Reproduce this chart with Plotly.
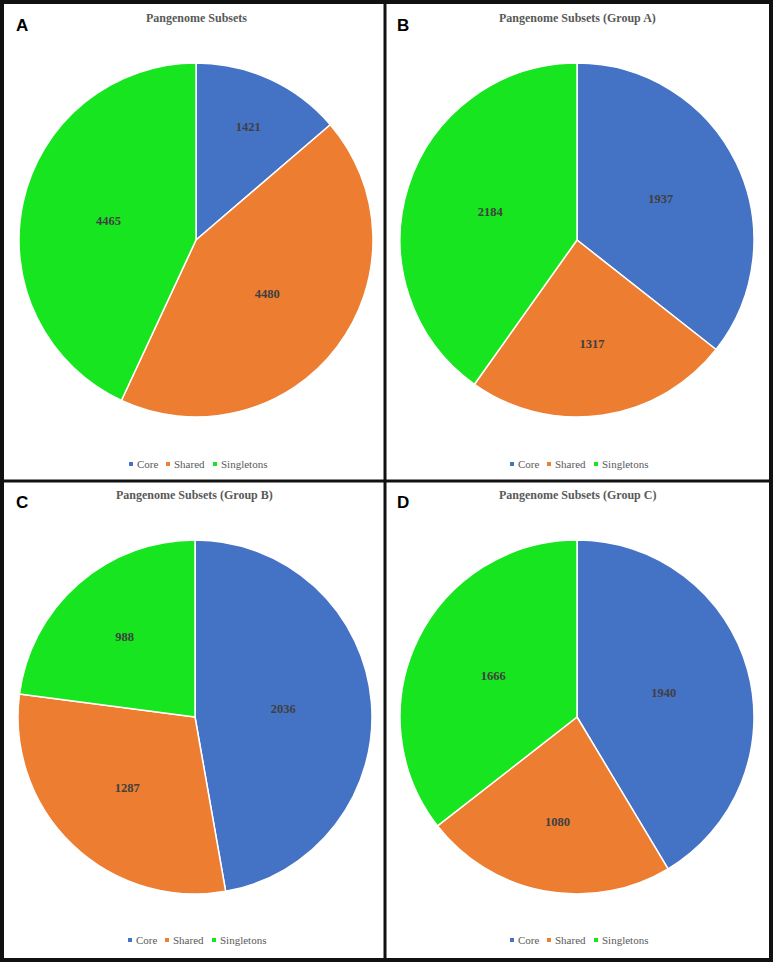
import plotly.graph_objects as go

W, H = 773, 962
categories = ["Core", "Shared", "Singletons"]
colors = ["#4472C4", "#ED7D31", "#17E51F"]
titles = ["Pangenome Subsets", "Pangenome Subsets (Group A)",
          "Pangenome Subsets (Group B)", "Pangenome Subsets (Group C)"]
letters = ["A", "B", "C", "D"]
values_A = [1421, 4480, 4465]
values_B = [1937, 1317, 2184]
values_C = [2036, 1287, 988]
values_D = [1940, 1080, 1666]
all_values = [values_A, values_B, values_C, values_D]

# pixel geometry of each panel: (center x, center y, radius)
pies = [(196, 240, 177), (577, 240, 177), (195, 717, 177), (577, 717, 177)]
panel_boxes = [(4, 4, 385, 481), (385, 4, 769, 481), (4, 481, 385, 958), (385, 481, 769, 958)]
legend_y = [464, 464, 940, 940]
# legend item offsets (square x relative to pie center)
legend_dx = [-65, -28, 19]

def px(x):
    return x / W

def py(y):
    return 1 - y / H

fig = go.Figure()
for i, (vals, (cx, cy, r)) in enumerate(zip(all_values, pies)):
    fig.add_trace(go.Pie(
        labels=categories, values=vals, sort=False, direction="clockwise", rotation=0,
        marker=dict(colors=colors, line=dict(color="white", width=1.5)),
        textinfo="value", textposition="inside", insidetextorientation="horizontal",
        textfont=dict(family="Liberation Serif", size=12.5, color="#404040", weight="bold"),
        domain=dict(x=[px(cx - r), px(cx + r)], y=[py(cy + r), py(cy - r)]),
        showlegend=False, hoverinfo="label+value+percent",
    ))

annotations = []
shapes = []
for i, (x0, y0, x1, y1) in enumerate(panel_boxes):
    cx = pies[i][0]
    annotations.append(dict(x=px(cx), y=py(y0 + 14), xref="paper", yref="paper",
                            text=f"<b>{titles[i]}</b>", showarrow=False,
                            font=dict(family="Liberation Serif", size=12, color="#595959"),
                            xanchor="center", yanchor="middle"))
    annotations.append(dict(x=px(x0 + 10), y=py(y0 + 22), xref="paper", yref="paper",
                            text=f"<b>{letters[i]}</b>", showarrow=False,
                            font=dict(family="Liberation Sans", size=17, color="black"),
                            xanchor="left", yanchor="middle"))
    ly = legend_y[i]
    for k, cat in enumerate(categories):
        sx = cx + legend_dx[k]
        shapes.append(dict(type="rect", xref="paper", yref="paper",
                           x0=px(sx - 2), x1=px(sx + 2), y0=py(ly + 2), y1=py(ly - 2),
                           fillcolor=colors[k], line=dict(width=0)))
        annotations.append(dict(x=px(sx + 4), y=py(ly), xref="paper", yref="paper",
                                text=cat, showarrow=False,
                                font=dict(family="Liberation Serif", size=11, color="#595959"),
                                xanchor="left", yanchor="middle"))

shapes += [
    dict(type="rect", xref="paper", yref="paper", x0=px(2), x1=px(771), y0=py(960), y1=py(2),
         line=dict(color="#111111", width=4)),
    dict(type="line", xref="paper", yref="paper", x0=px(385), x1=px(385), y0=py(960), y1=py(2),
         line=dict(color="#111111", width=3)),
    dict(type="line", xref="paper", yref="paper", x0=px(2), x1=px(771), y0=py(481), y1=py(481),
         line=dict(color="#111111", width=3)),
]

fig.update_layout(
    width=W, height=H, margin=dict(l=0, r=0, t=0, b=0),
    paper_bgcolor="white", plot_bgcolor="white",
    annotations=annotations, shapes=shapes, showlegend=False,
)
fig.write_html("out.html", config={"displayModeBar": False},
               post_script="document.body.style.margin='0px';document.body.style.overflow='hidden';")
